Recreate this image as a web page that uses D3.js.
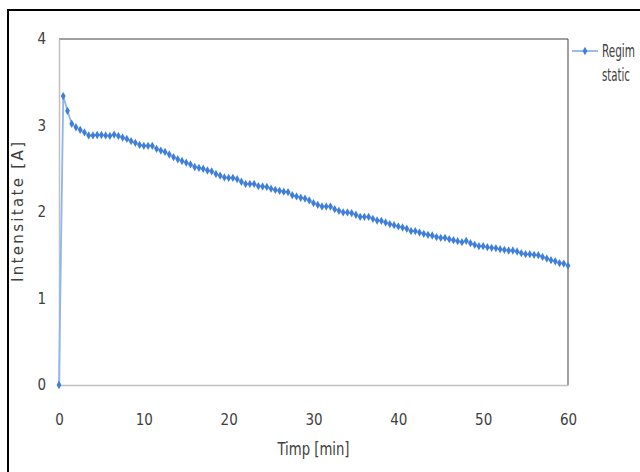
<!DOCTYPE html>
<html>
<head>
<meta charset="utf-8">
<script src="https://cdn.jsdelivr.net/npm/d3@7"></script>
<style>
  body { margin: 0; background: #fff; }
  svg { display: block; }
  .tick text { font-family: "Liberation Sans Narrow", "DejaVu Sans Condensed", sans-serif; font-size: 15px; fill: #404040; }
</style>
</head>
<body>
<svg width="640" height="472"></svg>
<script>
// time samples [min]
var timp = [
  0, 0.5, 1, 1.5, 2, 2.5, 3, 3.5, 4, 4.5, 5, 5.5, 6, 6.5, 7, 7.5, 8, 8.5, 9, 9.5,
  10, 10.5, 11, 11.5, 12, 12.5, 13, 13.5, 14, 14.5, 15, 15.5, 16, 16.5, 17, 17.5, 18, 18.5, 19, 19.5,
  20, 20.5, 21, 21.5, 22, 22.5, 23, 23.5, 24, 24.5, 25, 25.5, 26, 26.5, 27, 27.5, 28, 28.5, 29, 29.5,
  30, 30.5, 31, 31.5, 32, 32.5, 33, 33.5, 34, 34.5, 35, 35.5, 36, 36.5, 37, 37.5, 38, 38.5, 39, 39.5,
  40, 40.5, 41, 41.5, 42, 42.5, 43, 43.5, 44, 44.5, 45, 45.5, 46, 46.5, 47, 47.5, 48, 48.5, 49, 49.5,
  50, 50.5, 51, 51.5, 52, 52.5, 53, 53.5, 54, 54.5, 55, 55.5, 56, 56.5, 57, 57.5, 58, 58.5, 59, 59.5,
  60
];

// current [A], "Regim static"
var intensitate = [
  0, 3.34, 3.17, 3.02, 2.98, 2.95, 2.92, 2.885, 2.885, 2.89, 2.89, 2.885, 2.88, 2.895, 2.88, 2.86, 2.845, 2.82, 2.80, 2.775,
  2.765, 2.765, 2.765, 2.73, 2.71, 2.695, 2.665, 2.635, 2.61, 2.59, 2.57, 2.55, 2.52, 2.51, 2.50, 2.48, 2.47, 2.44, 2.42, 2.40,
  2.395, 2.395, 2.38, 2.35, 2.325, 2.325, 2.325, 2.30, 2.295, 2.29, 2.27, 2.255, 2.245, 2.235, 2.23, 2.195, 2.18, 2.165, 2.155, 2.134,
  2.103, 2.083, 2.064, 2.064, 2.064, 2.033, 2.014, 1.995, 1.995, 1.987, 1.968, 1.944, 1.944, 1.944, 1.921, 1.902, 1.898, 1.879, 1.86, 1.848,
  1.833, 1.821, 1.806, 1.779, 1.779, 1.763, 1.748, 1.736, 1.728, 1.71, 1.701, 1.701, 1.686, 1.674, 1.663, 1.651, 1.667, 1.64, 1.62, 1.605,
  1.605, 1.593, 1.586, 1.582, 1.57, 1.563, 1.555, 1.555, 1.543, 1.524, 1.512, 1.512, 1.505, 1.501, 1.481, 1.462, 1.443, 1.431, 1.408, 1.404,
  1.381
];

var xTicks = [0, 10, 20, 30, 40, 50, 60];
var yTicks = [0, 1, 2, 3, 4];
var seriesName = ["Regim", "static"];

var svg = d3.select("svg");
var narrow = '"Liberation Sans Narrow", "DejaVu Sans Condensed", sans-serif';

var x = d3.scaleLinear().domain([0, 60]).range([59, 568]);
var y = d3.scaleLinear().domain([0, 4]).range([385, 39]);

// outer frame (only top and left edges show)
svg.append("path")
    .attr("d", "M8,472V10H640")
    .attr("fill", "none")
    .attr("stroke", "#000")
    .attr("stroke-width", 2);

// top + right border of plot area
svg.append("path")
    .attr("d", `M${x(0)},${y(4)}H${x(60)}V${y(0)}`)
    .attr("fill", "none")
    .attr("stroke", "#404040")
    .attr("stroke-width", 1);

var xAxis = svg.append("g")
    .attr("transform", `translate(0,${y(0)})`)
    .call(d3.axisBottom(x).tickValues(xTicks).tickSize(0).tickPadding(29));
var yAxis = svg.append("g")
    .attr("transform", `translate(${x(0)},0)`)
    .call(d3.axisLeft(y).tickValues(yTicks).tickSize(0).tickPadding(13).tickFormat(d3.format("d")));

[xAxis, yAxis].forEach(function (g) {
    g.select(".domain").attr("stroke", "#c0c0c0").attr("stroke-width", 1.5);
});

var pts = timp.map(function (t, i) { return [t, intensitate[i]]; });

var line = d3.line()
    .x(function (d) { return x(d[0]); })
    .y(function (d) { return y(d[1]); });

svg.append("path")
    .datum(pts)
    .attr("d", line)
    .attr("fill", "none")
    .attr("stroke", "#8db6ea")
    .attr("stroke-width", 1.8);

var marker = d3.symbol().type(d3.symbolDiamond).size(20);
svg.append("g")
    .selectAll("path")
    .data(pts)
    .join("path")
    .attr("transform", function (d) { return `translate(${x(d[0])},${y(d[1])})`; })
    .attr("d", marker)
    .attr("fill", "#3f7fd9");

// axis titles
svg.append("text")
    .attr("transform", `translate(23,${(y(0) + y(4)) / 2}) rotate(-90)`)
    .attr("text-anchor", "middle")
    .attr("font-family", '"DejaVu Sans", sans-serif')
    .attr("font-size", 15)
    .attr("fill", "#404040")
    .attr("textLength", 140)
    .attr("lengthAdjust", "spacing")
    .text("Intensitate [A]");

svg.append("text")
    .attr("x", (x(0) + x(60)) / 2)
    .attr("y", 455)
    .attr("text-anchor", "middle")
    .attr("font-family", narrow)
    .attr("font-size", 18)
    .attr("fill", "#404040")
    .attr("textLength", 72)
    .attr("lengthAdjust", "spacingAndGlyphs")
    .text("Timp [min]");

// legend
var lg = svg.append("g");
lg.append("line")
    .attr("x1", 572).attr("x2", 598)
    .attr("y1", 51).attr("y2", 51)
    .attr("stroke", "#8db6ea")
    .attr("stroke-width", 1.8);
lg.append("path")
    .attr("transform", "translate(585,51)")
    .attr("d", marker)
    .attr("fill", "#3f7fd9");

// tall narrow glyphs: squeeze each label to the width seen in the reference
var legendW = [33, 28];
lg.selectAll("text")
    .data(seriesName)
    .join("text")
    .attr("font-family", narrow)
    .attr("font-size", 17)
    .attr("fill", "#404040")
    .text(function (d) { return d; })
    .attr("transform", function (d, i) {
        var k = legendW[i] / this.getComputedTextLength();
        return `translate(602,${57 + i * 24}) scale(${k},1)`;
    });
</script>
</body>
</html>
